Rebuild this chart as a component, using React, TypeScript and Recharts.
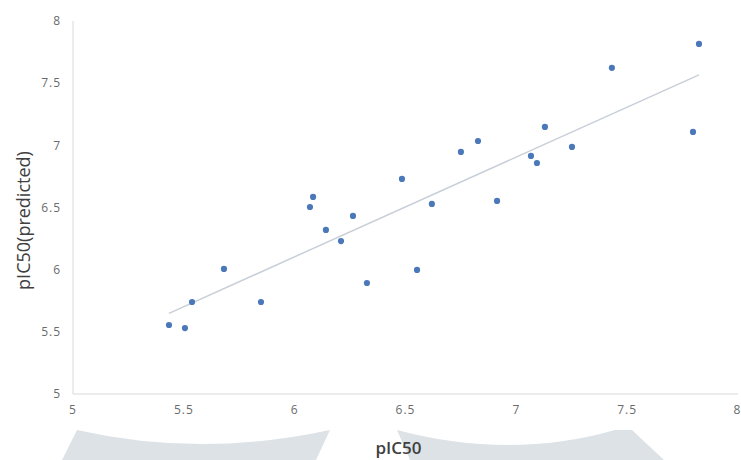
import React from 'react';
import {
  ScatterChart,
  Scatter,
  XAxis,
  YAxis,
  ZAxis,
  ReferenceLine,
} from 'recharts';

// observed pIC50 vs predicted pIC50
const observed = [
  5.433, 5.505, 5.537, 5.681, 5.848, 6.069, 6.083, 6.141, 6.209, 6.263, 6.326, 6.484,
  6.552, 6.619, 6.75, 6.827, 6.913, 7.066, 7.093, 7.129, 7.251, 7.431, 7.797, 7.824,
];
const predicted = [
  5.555, 5.53, 5.74, 6.006, 5.74, 6.504, 6.585, 6.32, 6.23, 6.432, 5.893, 6.73,
  5.998, 6.529, 6.947, 7.035, 6.553, 6.915, 6.858, 7.148, 6.987, 7.623, 7.108, 7.816,
];
const ticks = [5, 5.5, 6, 6.5, 7, 7.5, 8];

const points = observed.map((x, i) => ({ x, y: predicted[i] }));

// linear trendline (least squares)
const n = observed.length;
const mx = observed.reduce((a, b) => a + b, 0) / n;
const my = predicted.reduce((a, b) => a + b, 0) / n;
let sxy = 0;
let sxx = 0;
observed.forEach((x, i) => {
  sxy += (x - mx) * (predicted[i] - my);
  sxx += (x - mx) * (x - mx);
});
const slope = sxy / sxx;
const intercept = my - slope * mx;
const x0 = Math.min(...observed);
const x1 = Math.max(...observed);
const trend = [
  { x: x0, y: intercept + slope * x0 },
  { x: x1, y: intercept + slope * x1 },
];

const font = '"Open Sans", "Liberation Sans", sans-serif';
const tickStyle = { fontSize: 12, fill: '#6b6b6b', fontFamily: font, letterSpacing: 1 };

const App = () => {
  return (
    <div style={{ position: 'absolute', left: 0, top: 0, width: 741, height: 460, background: '#fff' }}>
      <svg width={741} height={460} style={{ position: 'absolute', left: 0, top: 0 }}>
        {/* faint watermark shapes behind the axis title */}
        <path d="M 62 460 L 77 430 Q 200 458 330 430 L 316 460 Z" fill="#dce2e6" />
        <path d="M 397 430 Q 510 460 615 430 L 632 430 L 664 460 L 410 460 Z" fill="#dce2e6" />
      </svg>
      <div style={{ position: 'absolute', left: 0, top: 0 }}>
        <ScatterChart width={741} height={460} margin={{ top: 21, right: 3, bottom: 0, left: 0 }}>
          <XAxis
            type="number"
            dataKey="x"
            domain={[5, 8]}
            ticks={ticks}
            height={66}
            tickLine={false}
            tickSize={0}
            tickMargin={11}
            stroke="#d9d9d9"
            tick={tickStyle}
            label={{
              value: 'pIC50',
              position: 'insideBottom',
              offset: 6,
              dx: -7,
              style: { fontSize: 17, fontWeight: 600, fill: '#404040', fontFamily: font },
            }}
          />
          <YAxis
            type="number"
            dataKey="y"
            domain={[5, 8]}
            ticks={ticks}
            width={73}
            tickLine={false}
            tickSize={0}
            tickMargin={12}
            stroke="#d9d9d9"
            tick={tickStyle}
            label={{
              content: ({ viewBox }: any) => {
                const cx = 23;
                const cy = viewBox.y + viewBox.height / 2 + 13;
                return (
                  <text
                    x={cx}
                    y={cy}
                    transform={`rotate(-90 ${cx} ${cy})`}
                    textAnchor="middle"
                    dominantBaseline="central"
                    fontSize={18}
                    fill="#404040"
                    fontFamily={font}
                  >
                    pIC50(predicted)
                  </text>
                );
              },
            }}
          />
          <ZAxis range={[30, 30]} />
          <ReferenceLine segment={trend} stroke="#c8cfd8" strokeWidth={1.5} ifOverflow="extendDomain" />
          <Scatter data={points} fill="#4a78b8" isAnimationActive={false} />
        </ScatterChart>
      </div>
    </div>
  );
};

export default App;
